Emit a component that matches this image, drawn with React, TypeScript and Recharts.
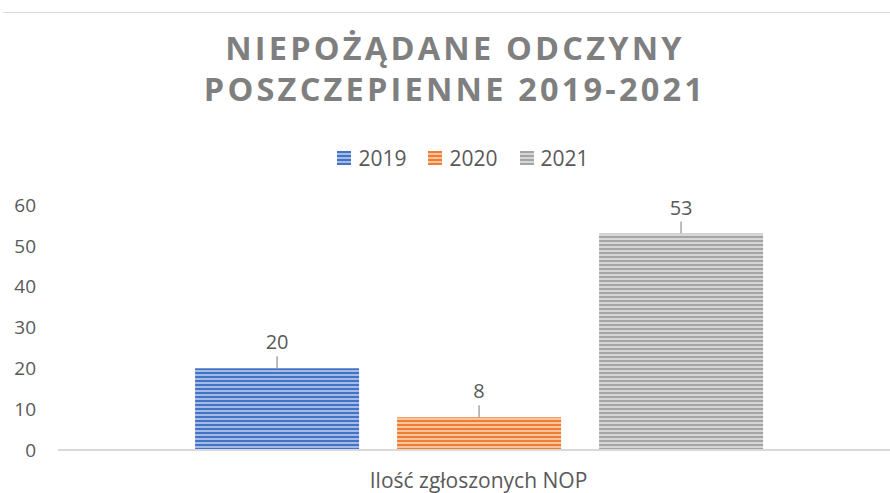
import { BarChart, Bar, XAxis, YAxis } from 'recharts';

const categories = ['Ilość zgłoszonych NOP'];
const years = ['2019', '2020', '2021'];
const values2019 = [20];
const values2020 = [8];
const values2021 = [53];
const yTicks = [0, 10, 20, 30, 40, 50, 60];

const COLORS: Record<string, { dark: string; light: string }> = {
  '2019': { dark: '#4472C4', light: '#A4BBE5' },
  '2020': { dark: '#ED7D31', light: '#F8C4A0' },
  '2021': { dark: '#A5A5A5', light: '#D6D6D6' },
};

const FONT = '"Open Sans", sans-serif';
const TEXT = '#595959';

const data = categories.map((name, i) => ({
  name,
  '2019': values2019[i],
  '2020': values2020[i],
  '2021': values2021[i],
}));

const renderLabel = (props: any) => {
  const { x, y, width, value } = props;
  const cx = Number(x) + Number(width) / 2;
  const top = Number(y);
  return (
    <g>
      <line x1={cx} y1={top - 12} x2={cx} y2={top} stroke="#a6a6a6" strokeWidth={1.5} />
      <text x={cx} y={top - 19} textAnchor="middle" fill={TEXT} fontSize={20} fontFamily={FONT}>
        {value}
      </text>
    </g>
  );
};

export default function App() {
  return (
    <div
      style={{
        position: 'fixed', left: 0, top: 0, width: 890, height: 493,
        overflow: 'hidden', background: '#fff', fontFamily: FONT,
      }}
    >
      <div style={{ position: 'absolute', left: 3, right: 0, top: 12, height: 1, background: '#d9d9d9' }} />
      <div
        style={{
          position: 'absolute', left: 0, width: 910, top: 27, textAlign: 'center',
          color: '#7f7f7f', fontWeight: 700, fontSize: 32.5, letterSpacing: 3.2, lineHeight: '41px',
        }}
      >
        NIEPOŻĄDANE ODCZYNY<br />POSZCZEPIENNE 2019-2021
      </div>
      <div
        style={{
          position: 'absolute', left: 0, width: 926, top: 143, display: 'flex',
          justifyContent: 'center', gap: 22, color: TEXT, fontSize: 21, lineHeight: '30px',
        }}
      >
        {years.map(y => (
          <div key={y} style={{ display: 'flex', alignItems: 'center', gap: 7 }}>
            <svg width={14} height={14}>
              <rect width={14} height={14} fill={`url(#stripe-${y})`} />
            </svg>
            <span>{y}</span>
          </div>
        ))}
      </div>
      <div style={{ position: 'absolute', left: 0, top: 0 }}>
        <BarChart
          width={900}
          height={493}
          data={data}
          margin={{ top: 205, right: 1, left: 0, bottom: 0 }}
          barCategoryGap="16.3%"
          barGap={38}
        >
          <defs>
            {years.map(y => (
              <pattern key={y} id={`stripe-${y}`} width={4} height={4} patternUnits="userSpaceOnUse">
                <rect width={4} height={4} fill={COLORS[y].light} />
                <rect width={4} height={2} fill={COLORS[y].dark} />
              </pattern>
            ))}
          </defs>
          <XAxis
            dataKey="name"
            height={43}
            axisLine={{ stroke: '#d9d9d9', strokeWidth: 2 }}
            tickLine={false}
            tickMargin={17}
            tick={{ fill: TEXT, fontSize: 21, fontFamily: FONT }}
          />
          <YAxis
            width={58}
            domain={[0, 60]}
            ticks={yTicks}
            axisLine={false}
            tickLine={false}
            tickMargin={16}
            tick={{ fill: TEXT, fontSize: 19, fontFamily: FONT }}
          />
          {years.map(y => (
            <Bar
              key={y}
              dataKey={y}
              fill={`url(#stripe-${y})`}
              isAnimationActive={false}
              label={renderLabel}
            />
          ))}
        </BarChart>
      </div>
    </div>
  );
}
